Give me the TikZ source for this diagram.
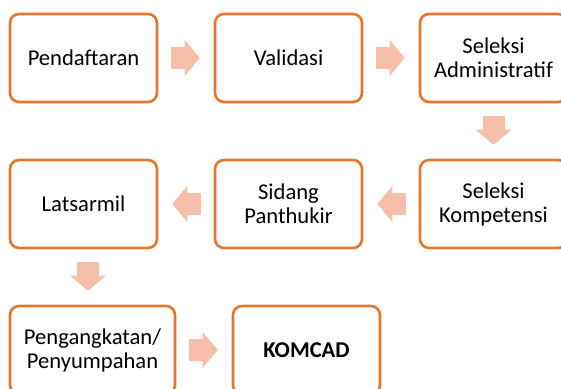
\documentclass[tikz,border=0pt]{standalone}
\usepackage{fontspec}
\setmainfont{Carlito}
\usetikzlibrary{arrows.meta}

\definecolor{boxc}{HTML}{E2772F}
\definecolor{arrowc}{HTML}{F5BFAA}

\begin{document}
\begin{tikzpicture}[x=1pt, y=-1pt,
	stepbox/.style={draw=boxc, line width=2.6pt, rounded corners=9pt, fill=white,
		minimum width=147pt, minimum height=88pt, align=center, inner sep=2pt,
		font=\fontsize{22.6}{24}\selectfont},
	flow/.style={draw=arrowc, line width=22pt, shorten <=13pt, shorten >=14pt,
		-{Triangle[length=15pt, width=36pt, line width=0pt]}}]

	\useasboundingbox (0, 0) rectangle (561, 388);
	\clip (0, 0) rectangle (561, 388);

	% Baris pertama
	\node[stepbox] (daftar) at (83.5, 58) {Pendaftaran};
	\node[stepbox] (valid) at (288.5, 58) {Validasi};
	\node[stepbox] (admin) at (493.5, 58) {Seleksi\\Administratif};

	% Baris kedua
	\node[stepbox] (latsar) at (83.5, 204) {Latsarmil};
	\node[stepbox] (sidang) at (288.5, 204) {Sidang\\Panthukir};
	\node[stepbox] (kompet) at (493.5, 204) {Seleksi\\Kompetensi};

	% Baris ketiga
	\node[stepbox, minimum width=165pt] (angkat) at (92.5, 350) {Pengangkatan/\\Penyumpahan};
	\node[stepbox] (komcad) at (306.5, 350) {\textbf{KOMCAD}};

	% Panah
	\draw[flow] (daftar) -- (valid);
	\draw[flow] (valid) -- (admin);
	\draw[flow] (admin) -- (kompet);
	\draw[flow] (kompet) -- (sidang);
	\draw[flow] (sidang) -- (latsar);
	\draw[flow] ([xshift=4.5pt]latsar.south) -- ([xshift=-4.5pt]angkat.north);
	\draw[flow] (angkat) -- (komcad);
\end{tikzpicture}
\end{document}
